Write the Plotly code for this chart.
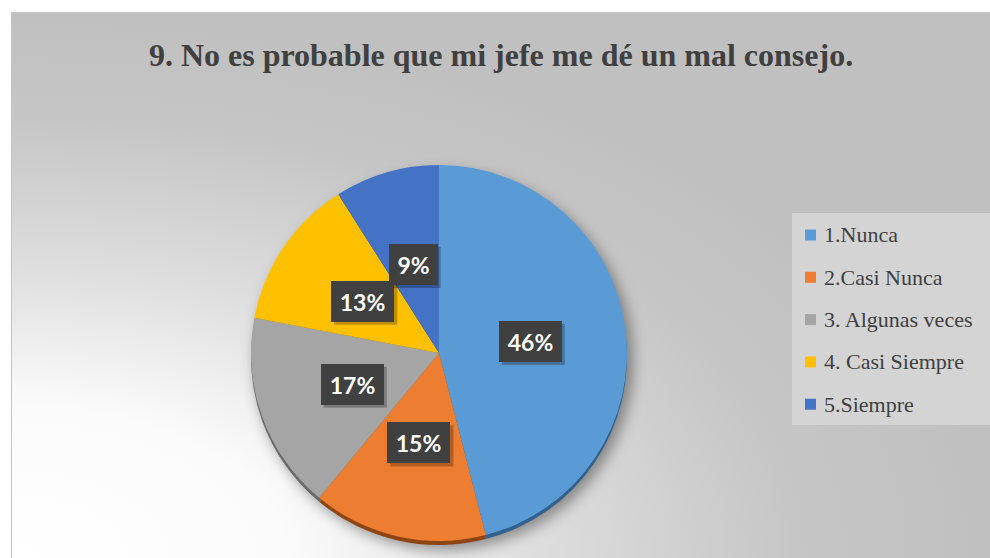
import base64
import math

import plotly.graph_objects as go

# Survey answers for item 9
categorias = ["1.Nunca", "2.Casi Nunca", "3. Algunas veces", "4. Casi Siempre", "5.Siempre"]
porcentajes = [46, 15, 17, 13, 9]
colores = ["#5B9BD5", "#ED7D31", "#A5A5A5", "#FFC000", "#4472C4"]
colores_canto = ["#33618F", "#8E4512", "#6A6A6A", "#A07800", "#2A4A86"]
titulo = "9. No es probable que mi jefe me dé un mal consejo."

# canvas and layout geometry (pixels)
W, H = 990, 558
FRAME_X, FRAME_Y = 11, 12
cx, cy, R = 439, 353, 188     # pie centre and radius
canto = 4                     # thickness of the 3D rim under the pie
LEG_X0, LEG_Y0, LEG_Y1 = 792, 213, 425
LEG_ROW0, LEG_STEP = 235, 42.3
PAD, BORDE = 4, 1             # label box padding / border


def px_x(x):
    return x / W


def px_y(y):
    return 1 - y / H


# background: white page, framed area with a radial gradient and a soft pie shadow
svg = f"""<svg xmlns="http://www.w3.org/2000/svg" width="{W}" height="{H}" viewBox="0 0 {W} {H}">
<defs>
<radialGradient id="g" cx="0" cy="1" r="1" fx="0" fy="1">
<stop offset="0" stop-color="#ffffff"/>
<stop offset="0.28" stop-color="#fbfbfb"/>
<stop offset="0.55" stop-color="#dcdcdc"/>
<stop offset="0.8" stop-color="#c6c6c6"/>
<stop offset="1" stop-color="#c0c0c0"/>
</radialGradient>
<filter id="s" x="-30%" y="-30%" width="160%" height="160%"><feGaussianBlur stdDeviation="7"/></filter>
</defs>
<rect x="0" y="0" width="{W}" height="{H}" fill="#ffffff"/>
<rect x="{FRAME_X + 0.5}" y="{FRAME_Y + 0.5}" width="{W - FRAME_X}" height="{H - FRAME_Y}" fill="url(#g)" stroke="#c4c4c4" stroke-width="1"/>
<circle cx="{cx + 5}" cy="{cy + 8}" r="{R + 1}" fill="#000000" fill-opacity="0.38" filter="url(#s)"/>
</svg>"""
fondo = "data:image/svg+xml;base64," + base64.b64encode(svg.encode("utf-8")).decode("ascii")

dom_x = [px_x(cx - R), px_x(cx + R)]
dom_y = [px_y(cy + R), px_y(cy - R)]
dom_y_canto = [px_y(cy + R + canto), px_y(cy - R + canto)]

fig = go.Figure()

# darker copy slightly lower gives the pie its bevelled edge
fig.add_trace(go.Pie(
    labels=categorias, values=porcentajes, sort=False, direction="clockwise", rotation=0,
    marker=dict(colors=colores_canto, line=dict(width=0)),
    textinfo="none", hoverinfo="skip", showlegend=False,
    domain=dict(x=dom_x, y=dom_y_canto),
))
fig.add_trace(go.Pie(
    labels=categorias, values=porcentajes, sort=False, direction="clockwise", rotation=0,
    marker=dict(colors=colores, line=dict(width=0)),
    textinfo="none", hoverinfo="label+percent", showlegend=False,
    domain=dict(x=dom_x, y=dom_y),
))

anotaciones = []
formas = []

# percentage labels on dark boxes, placed along each slice's mid-angle
total = sum(porcentajes)
acum = 0
for v in porcentajes:
    ang = math.radians((acum + v / 2) / total * 360)
    acum += v
    x = cx + 0.49 * R * math.sin(ang)
    y = cy - 0.49 * R * math.cos(ang)
    texto = f"{round(v / total * 100)}%"
    ancho = 25 + 14 * (len(texto) - 1)
    alto = 31
    # drop shadow behind the box
    mw = ancho / 2 + PAD + BORDE
    mh = alto / 2 + PAD + BORDE
    formas.append(dict(type="rect", xref="paper", yref="paper", layer="above",
                       x0=px_x(x - mw + 3), x1=px_x(x + mw + 3),
                       y0=px_y(y + mh + 3), y1=px_y(y - mh + 3),
                       fillcolor="rgba(0,0,0,0.25)", line=dict(width=0)))
    anotaciones.append(dict(text=texto, x=px_x(x), y=px_y(y), xref="paper", yref="paper",
                            showarrow=False, width=ancho, height=alto, borderpad=PAD,
                            borderwidth=BORDE, bordercolor="#404040", bgcolor="#404040",
                            xanchor="center", yanchor="middle", align="center", valign="middle",
                            font=dict(family="Lato", size=23, color="#ffffff", weight="bold")))

# legend box with square swatches
formas.append(dict(type="rect", xref="paper", yref="paper", layer="below",
                   x0=px_x(LEG_X0), x1=1, y0=px_y(LEG_Y1), y1=px_y(LEG_Y0),
                   fillcolor="#d4d4d4", line=dict(width=0)))
for i, (nombre, color) in enumerate(zip(categorias, colores)):
    yc = LEG_ROW0 + i * LEG_STEP
    formas.append(dict(type="rect", xref="paper", yref="paper", layer="below",
                       x0=px_x(805), x1=px_x(816), y0=px_y(yc + 5.5), y1=px_y(yc - 5.5),
                       fillcolor=color, line=dict(width=0)))
    anotaciones.append(dict(text=nombre, x=px_x(822), y=px_y(yc), xref="paper", yref="paper",
                            xanchor="left", yanchor="middle", showarrow=False,
                            font=dict(family="Liberation Serif", size=22, color="#404040")))

fig.update_layout(
    width=W, height=H,
    margin=dict(l=0, r=0, t=0, b=0),
    paper_bgcolor="#ffffff",
    plot_bgcolor="rgba(0,0,0,0)",
    title=dict(text=titulo, x=501 / W, xanchor="center", y=1 - 55 / H, yanchor="middle",
               yref="container", xref="container",
               font=dict(family="Liberation Serif", size=32, color="#404040", weight="bold")),
    images=[dict(source=fondo, xref="paper", yref="paper", x=0, y=1, sizex=1, sizey=1,
                 sizing="stretch", xanchor="left", yanchor="top", layer="below")],
    shapes=formas,
    annotations=anotaciones,
    showlegend=False,
)

fig.write_html("out.html")
